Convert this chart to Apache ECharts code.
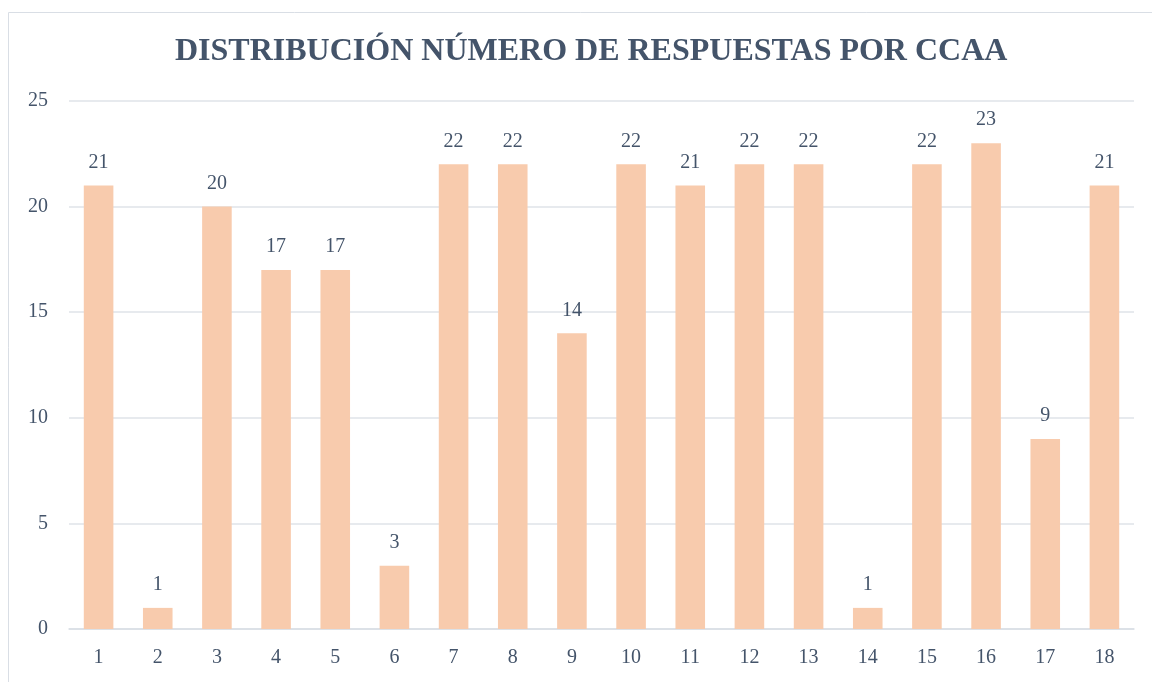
<!DOCTYPE html>
<html><head><meta charset="utf-8">
<script src="https://cdn.jsdelivr.net/npm/echarts@6/dist/echarts.min.js"></script>
<style>html,body{margin:0;padding:0;background:#fff}#c{width:1152px;height:682px}</style>
</head><body><div id="c"></div>
<script>
const titleText = 'DISTRIBUCIÓN NÚMERO DE RESPUESTAS POR CCAA';
const categories = ['1','2','3','4','5','6','7','8','9','10','11','12','13','14','15','16','17','18'];
const values = [21,1,20,17,17,3,22,22,14,22,21,22,22,1,22,23,9,21];
const yTicks = [0,5,10,15,20,25];

const font = '"Liberation Serif", "DejaVu Serif", serif';
const chart = echarts.init(document.getElementById('c'));
chart.setOption({
  animation: false,
  graphic: [{type:'rect', shape:{x:8.5,y:12.5,width:1200,height:700}, style:{fill:'none', stroke:'#d9dee5', lineWidth:1}, silent:true}],
  title: {text: titleText, left: 170, top: 31, textStyle:{fontFamily: font, fontWeight:'bold', fontSize:32, color:'#44546a'}},
  grid: {left:69, right:18, top:101, bottom:53},
  xAxis: {type:'category', data: categories,
    axisLine:{lineStyle:{color:'#d9dee5', width:1.5}}, axisTick:{show:false},
    axisLabel:{fontFamily:font, fontSize:20, color:'#44546a', margin:19}},
  yAxis: {type:'value', min:0, max:25, interval:5,
    axisLine:{show:false}, axisTick:{show:false},
    splitLine:{lineStyle:{color:'#dfe3e8', width:1.5}},
    axisLabel:{fontFamily:font, fontSize:20, color:'#44546a', margin:21, formatter: v => yTicks.includes(v) ? String(v) : ''}},
  series: [{type:'bar', data: values, barCategoryGap:'50%',
    itemStyle:{color:'#f8cbad'},
    label:{show:true, position:'top', distance:13, fontFamily:font, fontSize:20, color:'#44546a'}}]
});
</script></body></html>
